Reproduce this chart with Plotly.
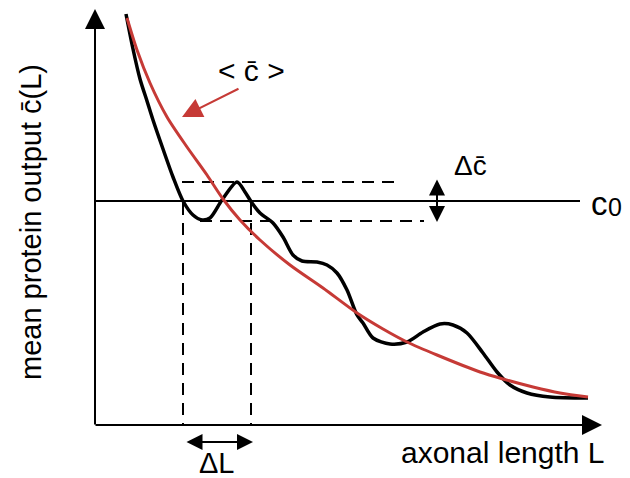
import plotly.graph_objects as go

# units: L and c (origin at the axes crossing)
L_BLACK = [31, 38, 45, 52, 58, 68, 78, 88, 98, 107, 115, 127, 142, 150, 157, 165,
           178, 188, 198, 207, 222, 232, 242, 252, 262, 268, 278, 295, 312,
           328, 345, 358, 372, 388, 402, 415, 432, 455, 493]
C_BLACK = [411, 376, 346, 324, 305, 276, 248, 224, 210, 205, 207, 225, 243, 233, 222,
           212, 202, 188, 170, 164, 163, 160, 152, 135, 110, 102, 87, 81, 83,
           93, 101, 100, 92, 72, 53, 40, 32, 28, 27]

L_MEAN = [32, 42, 55, 72, 92, 112, 128, 145, 165, 195, 228, 262, 288, 312,
          342, 385, 408, 438, 465, 493]
C_MEAN = [407, 375, 342, 308, 278, 250, 226, 205, 185, 160, 137, 112, 96, 83,
          70, 53, 46, 38, 32, 28]

C0 = 224
C_HI, C_LO = 243, 204
L_LEFT, L_RIGHT = 88, 156
L_END = 485

RED = "#c63a36"
FONT = "Arial, Liberation Sans, sans-serif"

fig = go.Figure()

# c0 reference line
fig.add_trace(go.Scatter(x=[0, L_END], y=[C0, C0], mode="lines",
                         line=dict(color="black", width=2)))

dash = dict(color="black", width=2, dash="12px,8px")
fig.add_trace(go.Scatter(x=[L_LEFT - 1, 307], y=[C_HI, C_HI], mode="lines", line=dash))
fig.add_trace(go.Scatter(x=[105, 329], y=[C_LO, C_LO], mode="lines", line=dash))
fig.add_trace(go.Scatter(x=[L_LEFT, L_LEFT], y=[C0 - 2, 0], mode="lines", line=dash))
fig.add_trace(go.Scatter(x=[L_RIGHT, L_RIGHT], y=[C0 - 2, 0], mode="lines", line=dash))

fig.add_trace(go.Scatter(x=L_BLACK, y=C_BLACK, mode="lines",
                         line=dict(color="black", width=3.5, shape="spline", smoothing=0.8)))
fig.add_trace(go.Scatter(x=L_MEAN, y=C_MEAN, mode="lines",
                         line=dict(color=RED, width=3, shape="spline", smoothing=0.8)))


def arrow(x0, y0, x1, y1, color="black", width=2, size=1.6, both=False):
    fig.add_annotation(x=x1, y=y1, ax=x0, ay=y0, xref="x", yref="y", axref="x", ayref="y",
                       text="", showarrow=True, arrowhead=2, arrowsize=size,
                       arrowwidth=width, arrowcolor=color, standoff=0, startstandoff=0,
                       arrowside="end+start" if both else "end", startarrowhead=2,
                       startarrowsize=size)


# axes
arrow(0, -1, 0, 416, size=2)
arrow(-1, 0, 507, 0, size=2)
# pointer to the mean curve
arrow(145, 337, 87, 308, color=RED, width=2, size=2)
# delta c and delta L
arrow(342, 247, 342, 203, size=1.6, both=True)
arrow(90, -17, 158, -17, size=1.6, both=True)


def label(x, y, text, size=29, **kw):
    fig.add_annotation(x=x, y=y, xref="x", yref="y", text=text, showarrow=False,
                       font=dict(family=FONT, size=size, color="black"), **kw)


label(156, 355, "&lt; c\u0304 &gt;", size=30)
label(375, 260, "\u0394c\u0304", size=28)
label(122, -38, "\u0394L", size=29)
label(512, -27, "axonal length L", size=30, xanchor="right")
label(504, 222, "c", size=33)
label(520, 218, "0", size=25)
label(-64, 203, "mean protein output c\u0304(L)", size=29, textangle=-90)

# page body has an 8px margin, so the figure is 8px smaller and the ranges start there
fig.update_xaxes(visible=False, range=[-87, 535])
fig.update_yaxes(visible=False, range=[-53, 417])
fig.update_layout(width=622, height=470, margin=dict(l=0, r=0, t=0, b=0),
                  showlegend=False, plot_bgcolor="white", paper_bgcolor="white")

fig.write_html("out.html")
